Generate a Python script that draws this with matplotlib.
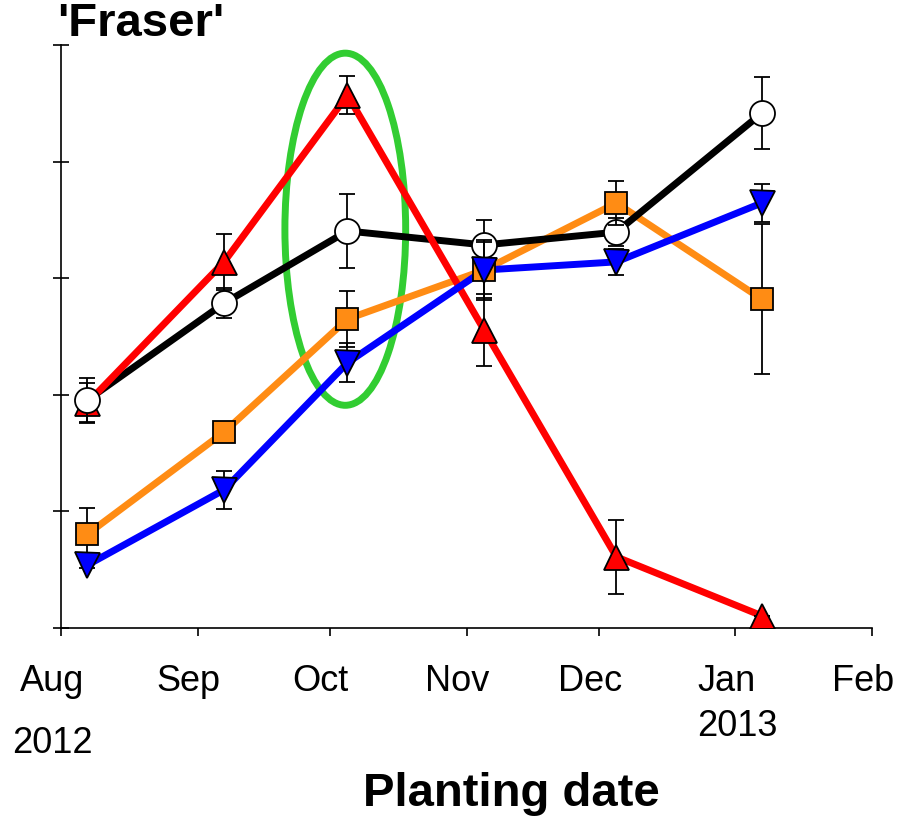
import datetime as dt
import numpy as np
import matplotlib.pyplot as plt
import matplotlib.dates as mdates
from matplotlib.patches import Ellipse
from matplotlib.transforms import ScaledTranslation

plt.rcParams['font.family'] = ['Liberation Sans', 'DejaVu Sans']

# Datas de plantio
datas = [dt.date(2012, 8, 7), dt.date(2012, 9, 7), dt.date(2012, 10, 5),
         dt.date(2012, 11, 5), dt.date(2012, 12, 5), dt.date(2013, 1, 7)]

# Series (valores e erros)
preto = [39.1, 55.7, 68.1, 65.7, 67.9, 88.3]
preto_err = [3.8, 2.6, 6.3, 4.3, 2.4, 6.2]
vermelho = [38.6, 62.8, 91.4, 51.1, 12.2, 2.1]
vermelho_err = [3.4, 4.8, 3.3, 6.2, 6.3, 0.0]
laranja = [16.1, 33.6, 53.0, 61.4, 72.9, 56.4]
laranja_err = [4.5, 0.8, 4.8, 4.8, 3.8, 12.9]
azul = [10.8, 23.7, 45.5, 61.4, 62.8, 72.9]
azul_err = [0.5, 3.3, 3.3, 5.1, 2.2, 3.3]

meses = [dt.date(2012, 8, 1), dt.date(2012, 9, 1), dt.date(2012, 10, 1),
         dt.date(2012, 11, 1), dt.date(2012, 12, 1), dt.date(2013, 1, 1),
         dt.date(2013, 2, 1)]
meses_lbl = ['Aug', 'Sep', 'Oct', 'Nov', 'Dec', 'Jan', 'Feb']

fig = plt.figure(figsize=(9.04, 8.21), dpi=100)
ax = fig.add_axes([61 / 904, 1 - 628 / 821, 811 / 904, 583 / 821])

x = mdates.date2num(datas)

# (valores, erros, cor, marcador, tamanho, zorder linha, zorder marcador)
series = [
    (preto, preto_err, 'black', 'o', 18, 3, 7),
    (vermelho, vermelho_err, '#ff0000', '^', 18, 4, 6),
    (laranja, laranja_err, '#ff8c14', 's', 16, 2, 8),
    (azul, azul_err, '#0000ff', 'v', 18, 5, 9),
]

for y, e, cor, mk, ms, zl, zm in series:
    ax.plot(x, y, '-', color=cor, lw=5, zorder=zl, solid_capstyle='butt')
    face = 'white' if cor == 'black' else cor
    ax.errorbar(x, y, yerr=e, fmt=mk, ms=ms, mfc=face, mec='black', mew=1.3,
                ecolor='black', elinewidth=1.3, capsize=6, capthick=1.3,
                zorder=zm)

# Elipse verde destacando outubro
centro = mdates.date2num(dt.date(2012, 10, 4)) + 0.5
ax.add_patch(Ellipse((centro, 68.4), 27.4, 60.4, fill=False,
                     edgecolor='#32cd32', lw=5, zorder=1))

ax.set_xlim(mdates.date2num(meses[0]), mdates.date2num(meses[-1]))
ax.set_ylim(0, 100)
ax.set_xticks(mdates.date2num(meses))
ax.set_xticklabels(meses_lbl, fontsize=26)
ax.set_yticks(np.arange(0, 101, 20))
ax.set_yticklabels([])
ax.tick_params(axis='x', direction='out', length=6, width=1.2, pad=20)
ax.tick_params(axis='y', direction='inout', length=12, width=1.2)
for lbl in ax.get_xticklabels():
    lbl.set_transform(lbl.get_transform() + ScaledTranslation(-9 / 100, 0, fig.dpi_scale_trans))

for s in ['top', 'right']:
    ax.spines[s].set_visible(False)
for s in ['left', 'bottom']:
    ax.spines[s].set_linewidth(1.2)

fig.text(52 / 904, 1 - 753 / 821, '2012', fontsize=26, ha='center', va='baseline')
fig.text(737 / 904, 1 - 736 / 821, '2013', fontsize=26, ha='center', va='baseline')
fig.text(511 / 904, 1 - 806 / 821, 'Planting date', fontsize=34, fontweight='bold',
         ha='center', va='baseline')
fig.text(57 / 904, 1 - 36 / 821, "'Fraser'", fontsize=34, fontweight='bold',
         ha='left', va='baseline')

fig.savefig('out.png', dpi=100)
